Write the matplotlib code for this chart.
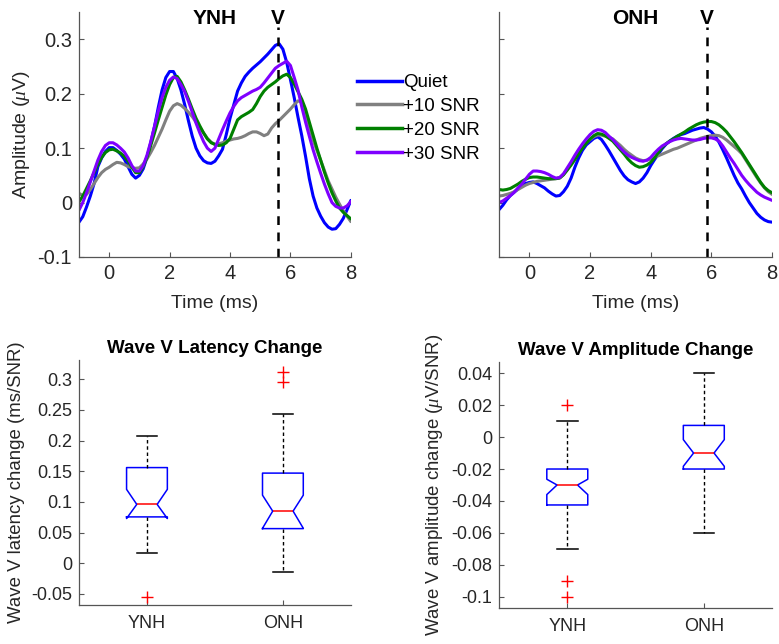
import matplotlib
matplotlib.use("Agg")
import matplotlib.pyplot as plt
from matplotlib.lines import Line2D

plt.rcParams["font.family"] = ["Liberation Sans", "DejaVu Sans"]
plt.rcParams["mathtext.fontset"] = "custom"
plt.rcParams["mathtext.it"] = "Liberation Serif:italic"

# ---- waveform data (time in ms, amplitude in uV) ----
time_ms = [-1.000, -0.875, -0.750, -0.625, -0.500, -0.375, -0.250, -0.125,
           0.000, 0.125, 0.250, 0.375, 0.500, 0.625, 0.750, 0.875,
           1.000, 1.125, 1.250, 1.375, 1.500, 1.625, 1.750, 1.875,
           2.000, 2.125, 2.250, 2.375, 2.500, 2.625, 2.750, 2.875,
           3.000, 3.125, 3.250, 3.375, 3.500, 3.625, 3.750, 3.875,
           4.000, 4.125, 4.250, 4.375, 4.500, 4.625, 4.750, 4.875,
           5.000, 5.125, 5.250, 5.375, 5.500, 5.625, 5.750, 5.875,
           6.000, 6.125, 6.250, 6.375, 6.500, 6.625, 6.750, 6.875,
           7.000, 7.125, 7.250, 7.375, 7.500, 7.625, 7.750, 7.875,
           8.000]

ynh_quiet = [-0.036, -0.026, -0.008, 0.012, 0.035, 0.066, 0.082, 0.094,
             0.101, 0.101, 0.096, 0.089, 0.080, 0.066, 0.052, 0.045,
             0.050, 0.062, 0.083, 0.110, 0.140, 0.175, 0.207, 0.230,
             0.241, 0.241, 0.228, 0.207, 0.180, 0.150, 0.122, 0.100,
             0.086, 0.077, 0.073, 0.072, 0.076, 0.086, 0.098, 0.125,
             0.155, 0.180, 0.205, 0.220, 0.232, 0.240, 0.247, 0.253,
             0.259, 0.266, 0.273, 0.281, 0.289, 0.292, 0.282, 0.258,
             0.226, 0.193, 0.157, 0.123, 0.085, 0.044, 0.012, -0.010,
             -0.025, -0.037, -0.045, -0.049, -0.048, -0.040, -0.029, -0.013,
             0.004]
ynh_snr10 = [0.017, 0.013, 0.015, 0.024, 0.035, 0.046, 0.055, 0.061,
             0.065, 0.070, 0.074, 0.073, 0.070, 0.066, 0.064, 0.063,
             0.064, 0.071, 0.080, 0.092, 0.105, 0.120, 0.135, 0.152,
             0.168, 0.178, 0.182, 0.179, 0.173, 0.166, 0.158, 0.148,
             0.138, 0.128, 0.118, 0.111, 0.107, 0.108, 0.110, 0.113,
             0.115, 0.117, 0.118, 0.120, 0.123, 0.127, 0.130, 0.130,
             0.127, 0.123, 0.126, 0.137, 0.145, 0.151, 0.158, 0.165,
             0.172, 0.180, 0.187, 0.185, 0.165, 0.140, 0.115, 0.096,
             0.078, 0.059, 0.040, 0.025, 0.010, -0.003, -0.015, -0.025,
             -0.035]
ynh_snr20 = [0.001, 0.012, 0.026, 0.040, 0.055, 0.070, 0.083, 0.092,
             0.097, 0.098, 0.095, 0.091, 0.085, 0.076, 0.065, 0.055,
             0.055, 0.066, 0.083, 0.105, 0.128, 0.152, 0.175, 0.198,
             0.217, 0.230, 0.232, 0.222, 0.207, 0.190, 0.172, 0.155,
             0.141, 0.128, 0.117, 0.110, 0.107, 0.105, 0.106, 0.110,
             0.118, 0.135, 0.152, 0.158, 0.162, 0.166, 0.171, 0.182,
             0.195, 0.205, 0.212, 0.217, 0.222, 0.228, 0.233, 0.236,
             0.230, 0.218, 0.204, 0.190, 0.172, 0.148, 0.124, 0.100,
             0.078, 0.056, 0.036, 0.018, 0.003, -0.010, -0.018, -0.024,
             -0.030]
ynh_snr30 = [-0.014, 0.000, 0.018, 0.038, 0.058, 0.078, 0.094, 0.105,
             0.110, 0.110, 0.106, 0.100, 0.093, 0.082, 0.068, 0.058,
             0.058, 0.068, 0.087, 0.112, 0.140, 0.168, 0.193, 0.212,
             0.225, 0.231, 0.228, 0.217, 0.204, 0.186, 0.166, 0.146,
             0.128, 0.112, 0.100, 0.094, 0.100, 0.117, 0.134, 0.150,
             0.165, 0.177, 0.187, 0.193, 0.197, 0.201, 0.205, 0.208,
             0.212, 0.220, 0.229, 0.238, 0.247, 0.252, 0.256, 0.260,
             0.252, 0.230, 0.207, 0.176, 0.148, 0.122, 0.097, 0.075,
             0.054, 0.034, 0.016, 0.000, -0.007, -0.010, -0.010, -0.006,
             0.002]

onh_quiet = [-0.013, -0.005, 0.005, 0.013, 0.019, 0.025, 0.030, 0.035,
             0.037, 0.038, 0.035, 0.031, 0.027, 0.021, 0.016, 0.012,
             0.013, 0.020, 0.030, 0.045, 0.065, 0.082, 0.096, 0.106,
             0.112, 0.118, 0.121, 0.116, 0.106, 0.095, 0.083, 0.071,
             0.059, 0.049, 0.042, 0.038, 0.035, 0.038, 0.045, 0.055,
             0.068, 0.079, 0.089, 0.099, 0.107, 0.113, 0.118, 0.122,
             0.125, 0.127, 0.130, 0.133, 0.135, 0.137, 0.138, 0.135,
             0.130, 0.122, 0.111, 0.097, 0.082, 0.066, 0.050, 0.036,
             0.025, 0.012, 0.000, -0.010, -0.020, -0.027, -0.032, -0.035,
             -0.036]
onh_snr10 = [0.012, 0.013, 0.015, 0.017, 0.020, 0.024, 0.028, 0.032,
             0.035, 0.037, 0.039, 0.040, 0.041, 0.042, 0.043, 0.044,
             0.046, 0.052, 0.060, 0.071, 0.082, 0.093, 0.102, 0.110,
             0.116, 0.121, 0.124, 0.124, 0.122, 0.120, 0.117, 0.111,
             0.105, 0.098, 0.092, 0.087, 0.082, 0.079, 0.077, 0.078,
             0.080, 0.083, 0.086, 0.089, 0.092, 0.095, 0.098, 0.100,
             0.103, 0.106, 0.109, 0.112, 0.115, 0.118, 0.120, 0.122,
             0.123, 0.124, 0.123, 0.120, 0.115, 0.109, 0.103, 0.097,
             0.090, 0.079, 0.068, 0.057, 0.046, 0.036, 0.027, 0.020,
             0.015]
onh_snr20 = [0.024, 0.023, 0.024, 0.026, 0.030, 0.034, 0.039, 0.043,
             0.046, 0.047, 0.047, 0.046, 0.045, 0.044, 0.044, 0.044,
             0.045, 0.051, 0.060, 0.069, 0.079, 0.090, 0.100, 0.109,
             0.117, 0.123, 0.127, 0.126, 0.123, 0.118, 0.113, 0.105,
             0.097, 0.089, 0.080, 0.073, 0.068, 0.065, 0.066, 0.069,
             0.074, 0.082, 0.092, 0.101, 0.108, 0.113, 0.117, 0.122,
             0.126, 0.130, 0.135, 0.139, 0.143, 0.146, 0.148, 0.149,
             0.149, 0.147, 0.143, 0.137, 0.130, 0.121, 0.112, 0.102,
             0.092, 0.081, 0.070, 0.059, 0.048, 0.037, 0.028, 0.022,
             0.018]
onh_snr30 = [0.000, 0.003, 0.008, 0.013, 0.019, 0.027, 0.034, 0.043,
             0.052, 0.058, 0.058, 0.057, 0.055, 0.052, 0.048, 0.045,
             0.046, 0.053, 0.064, 0.075, 0.087, 0.098, 0.108, 0.117,
             0.125, 0.131, 0.134, 0.133, 0.129, 0.122, 0.116, 0.108,
             0.100, 0.093, 0.087, 0.083, 0.080, 0.077, 0.076, 0.078,
             0.083, 0.091, 0.098, 0.104, 0.108, 0.112, 0.115, 0.117,
             0.118, 0.117, 0.116, 0.115, 0.115, 0.116, 0.118, 0.119,
             0.119, 0.117, 0.113, 0.104, 0.093, 0.082, 0.072, 0.061,
             0.050, 0.041, 0.033, 0.026, 0.019, 0.014, 0.010, 0.007,
             0.004]

condition_labels = ["Quiet", "+10 SNR", "+20 SNR", "+30 SNR"]
condition_colors = ["#0000ff", "#808080", "#008000", "#7f00ff"]
wave_v_latency = {"YNH": 5.58, "ONH": 5.85}

# ---- box plot summaries ----
groups = ["YNH", "ONH"]
lat_med = [0.096, 0.085]
lat_q1 = [0.0756, 0.0565]
lat_q3 = [0.156, 0.147]
lat_ci_lo = [0.073, 0.057]
lat_ci_hi = [0.1205, 0.111]
lat_whis_lo = [0.016, -0.014]
lat_whis_hi = [0.208, 0.243]
lat_fliers = [[-0.055], [0.296, 0.312]]

amp_med = [-0.030, -0.010]
amp_q1 = [-0.0425, -0.020]
amp_q3 = [-0.020, 0.0073]
amp_ci_lo = [-0.036, -0.0183]
amp_ci_hi = [-0.0264, -0.0016]
amp_whis_lo = [-0.070, -0.060]
amp_whis_hi = [0.010, 0.040]
amp_fliers = [[0.020, -0.090, -0.100], []]

SPINE = "#555555"
TXT = "#262626"


def style_axes(ax, size, pad=5):
    for side in ("top", "right"):
        ax.spines[side].set_visible(False)
    for side in ("left", "bottom"):
        ax.spines[side].set_color(SPINE)
        ax.spines[side].set_linewidth(0.9)
    ax.tick_params(direction="in", length=3.5, width=0.8, color=SPINE,
                   labelsize=size, labelcolor=TXT, pad=pad)


fig = plt.figure(figsize=(7.79, 6.44), dpi=100)

# ---- top row: waveforms ----
wave_sets = [("YNH", [ynh_quiet, ynh_snr10, ynh_snr20, ynh_snr30]),
             ("ONH", [onh_quiet, onh_snr10, onh_snr20, onh_snr30])]
positions = [[0.1014, 0.601, 0.349, 0.380], [0.6406, 0.601, 0.3505, 0.380]]
for (grp, curves), pos in zip(wave_sets, positions):
    ax = fig.add_axes(pos)
    for vals, col in zip(curves, condition_colors):
        ax.plot(time_ms, vals, color=col, lw=2.2, solid_capstyle="round",
                solid_joinstyle="round")
    ax.plot([wave_v_latency[grp]] * 2, [-0.1, 0.322], color="black",
            lw=1.8, ls=(0, (3.5, 3.0)))
    ax.text(3.5, 0.338, grp, ha="center", va="center", fontsize=15,
            fontweight="bold")
    ax.text(wave_v_latency[grp], 0.338, "V", ha="center", va="center",
            fontsize=15, fontweight="bold")
    ax.set_xlim(-1, 8)
    ax.set_ylim(-0.1, 0.35)
    ax.set_xticks([0, 2, 4, 6, 8])
    ax.set_yticks([-0.1, 0, 0.1, 0.2, 0.3])
    style_axes(ax, 14.5)
    ax.set_xlabel("Time (ms)", fontsize=14, color=TXT, labelpad=9)
    if grp == "YNH":
        ax.set_yticklabels(["-0.1", "0", "0.1", "0.2", "0.3"])
        ax.set_ylabel(r"Amplitude ($\mu$V)", fontsize=14, color=TXT, labelpad=4)
    else:
        ax.set_yticklabels([])

handles = [Line2D([], [], color=col, lw=2.5, label=lab)
           for lab, col in zip(condition_labels, condition_colors)]
fig.legend(handles=handles, loc="upper left",
           bbox_to_anchor=(357 / 779, 1 - 74 / 644), frameon=False,
           fontsize=13.5, handlelength=2.4, handletextpad=0.05,
           labelspacing=0.36, borderpad=0, borderaxespad=0)


# ---- bottom row: notched box plots ----
def box_stats(med, q1, q3, cilo, cihi, wlo, whi, fl):
    out = []
    for i, g in enumerate(groups):
        out.append(dict(label=g, med=med[i], q1=q1[i], q3=q3[i],
                        cilo=cilo[i], cihi=cihi[i], whislo=wlo[i],
                        whishi=whi[i], fliers=fl[i]))
    return out


def draw_box(ax, stats):
    ax.bxp(stats, positions=[1, 2], widths=0.3, shownotches=True,
           boxprops=dict(color="#0000ff", lw=1.1),
           medianprops=dict(color="#ff0000", lw=1.1),
           whiskerprops=dict(color="black", lw=1.0, ls=(0, (2.5, 2.0))),
           capprops=dict(color="black", lw=1.1),
           flierprops=dict(marker="+", markeredgecolor="#ff0000",
                           markersize=8, markeredgewidth=1.0))
    ax.set_xlim(0.5, 2.5)
    ax.set_xticks([1, 2])
    ax.set_xticklabels(groups)
    style_axes(ax, 13)
    ax.tick_params(axis="x", pad=7)


ax3 = fig.add_axes([0.1014, 0.0606, 0.349, 0.380])
draw_box(ax3, box_stats(lat_med, lat_q1, lat_q3, lat_ci_lo, lat_ci_hi,
                        lat_whis_lo, lat_whis_hi, lat_fliers))
ax3.set_ylim(-0.068, 0.331)
lat_ticks = [-0.05, 0, 0.05, 0.1, 0.15, 0.2, 0.25, 0.3]
ax3.set_yticks(lat_ticks)
ax3.set_yticklabels(["-0.05", "0", "0.05", "0.1", "0.15", "0.2", "0.25", "0.3"])
ax3.set_title("Wave V Latency Change", fontsize=13.5, fontweight="bold", pad=5)
ax3.set_ylabel("Wave V latency change (ms/SNR)", fontsize=13.4, color=TXT,
               labelpad=4)

ax4 = fig.add_axes([0.6406, 0.0559, 0.3505, 0.382])
draw_box(ax4, box_stats(amp_med, amp_q1, amp_q3, amp_ci_lo, amp_ci_hi,
                        amp_whis_lo, amp_whis_hi, amp_fliers))
ax4.set_ylim(-0.107, 0.047)
amp_ticks = [-0.1, -0.08, -0.06, -0.04, -0.02, 0, 0.02, 0.04]
ax4.set_yticks(amp_ticks)
ax4.set_yticklabels(["-0.1", "-0.08", "-0.06", "-0.04", "-0.02", "0", "0.02", "0.04"])
ax4.set_title("Wave V Amplitude Change", fontsize=13.5, fontweight="bold", pad=5)
ax4.set_ylabel(r"Wave V amplitude change ($\mu$V/SNR)", fontsize=13.4,
               color=TXT, labelpad=4)

fig.savefig("out.png", dpi=100)
